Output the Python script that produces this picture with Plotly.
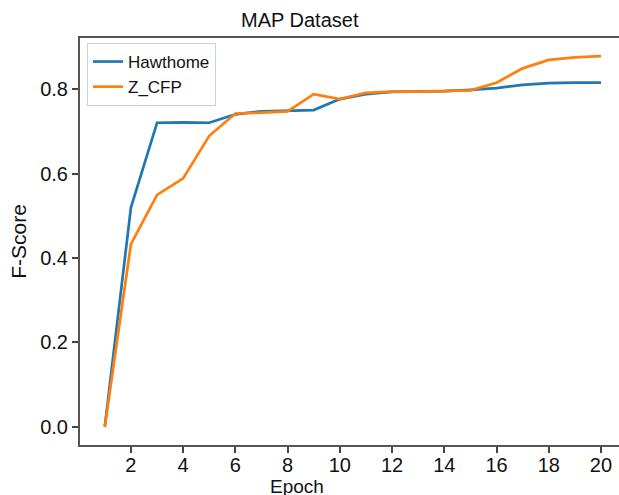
import plotly.graph_objects as go

epochs = list(range(1, 21))
hawthome = [0.0, 0.52, 0.721, 0.722, 0.721, 0.741, 0.748, 0.749, 0.751, 0.777,
            0.789, 0.794, 0.795, 0.796, 0.799, 0.803, 0.811, 0.815, 0.816, 0.816]
z_cfp = [0.0, 0.433, 0.55, 0.589, 0.69, 0.743, 0.745, 0.748, 0.789, 0.777,
         0.792, 0.795, 0.795, 0.796, 0.798, 0.816, 0.850, 0.870, 0.876, 0.879]
x_ticks = [2, 4, 6, 8, 10, 12, 14, 16, 18, 20]
y_ticks = [0.0, 0.2, 0.4, 0.6, 0.8]

font = "Liberation Sans, Arial, sans-serif"

fig = go.Figure()
fig.add_trace(go.Scatter(x=epochs, y=hawthome, mode="lines", name="Hawthome",
                         line=dict(color="#1f77b4", width=2.7)))
fig.add_trace(go.Scatter(x=epochs, y=z_cfp, mode="lines", name="Z_CFP",
                         line=dict(color="#ff7f0e", width=2.7)))

L, R, T, B = 80, 0, 38, 50
W, H = 619, 495
pw = W - L - R
ph = H - T - B


def px_x(x):
    return (x - L) / pw


def px_y(y):
    return (H - B - y) / ph


fig.update_layout(
    width=W, height=H,
    margin=dict(l=L, r=R, t=T, b=B, autoexpand=False),
    paper_bgcolor="white", plot_bgcolor="white",
    font=dict(family=font, color="#111"),
    showlegend=True,
    legend=dict(x=px_x(87), y=px_y(43), xanchor="left", yanchor="top",
                bordercolor="#d0d0d0", borderwidth=1, bgcolor="white",
                font=dict(size=17, family=font), tracegroupgap=0,
                itemwidth=30),
    annotations=[
        dict(text="MAP Dataset", x=px_x(300), xref="paper", y=px_y(20), yref="paper",
             xanchor="center", yanchor="middle",
             showarrow=False, font=dict(size=20, family=font)),
        dict(text="Epoch", x=px_x(297), xref="paper", y=px_y(486), yref="paper",
             xanchor="center", yanchor="middle",
             showarrow=False, font=dict(size=19, family=font)),
    ],
)

fig.update_xaxes(range=[0.05, 20.69], tickvals=x_ticks, ticks="outside",
                 ticklen=6, tickwidth=1.5, tickcolor="#444",
                 showline=True, linecolor="#555", linewidth=2, mirror=True,
                 showgrid=False, zeroline=False, automargin=False,
                 ticklabelstandoff=-5,
                 tickfont=dict(size=20, family=font))
fig.update_yaxes(range=[-0.0434, 0.922], tickvals=y_ticks, tickformat=".1f",
                 ticks="outside", ticklen=6, tickwidth=1.5, tickcolor="#444",
                 showline=True, linecolor="#555", linewidth=2,
                 showgrid=False, zeroline=False, automargin=False,
                 tickfont=dict(size=20, family=font),
                 title=dict(text="F-Score", font=dict(size=21, family=font), standoff=8))

fig.write_html("out.html", config={"displayModeBar": False},
               post_script="document.body.style.margin='0';document.body.style.overflow='hidden';")
